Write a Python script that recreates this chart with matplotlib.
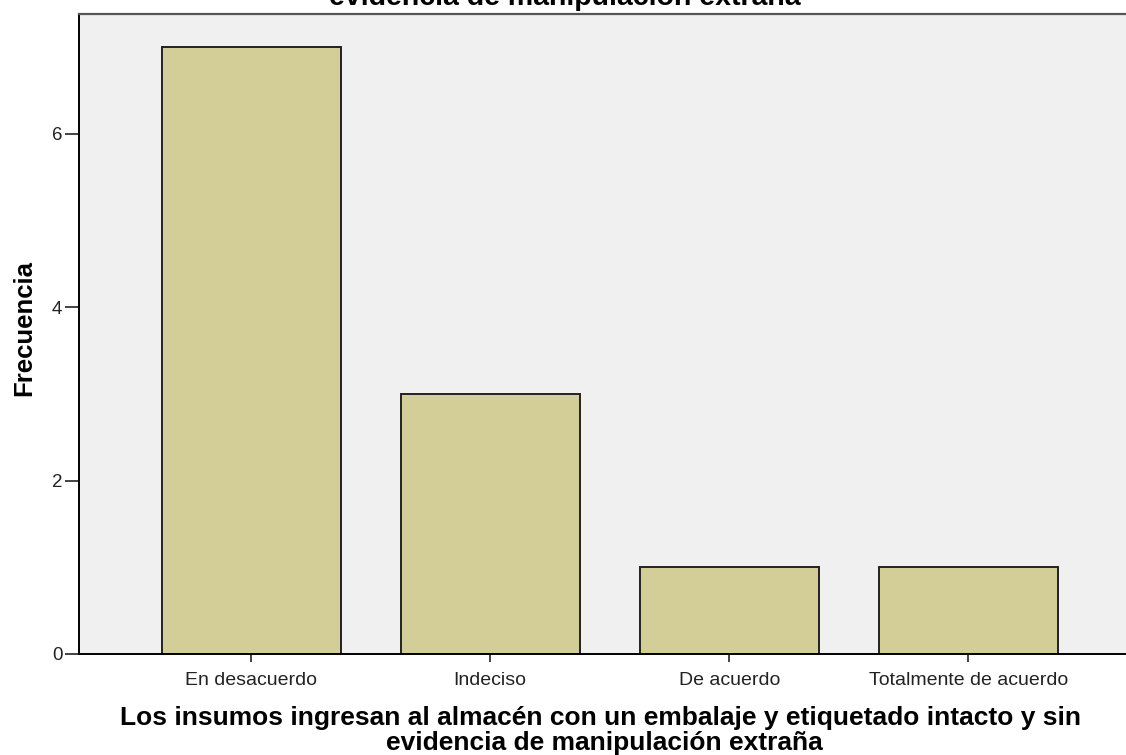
import matplotlib.pyplot as plt

categories = ["En desacuerdo", "Indeciso", "De acuerdo", "Totalmente de acuerdo"]
frequencies = [7, 3, 1, 1]
title_text = ("Los insumos ingresan al almacén con un embalaje y etiquetado intacto y sin\n"
              "evidencia de manipulación extraña")

plt.rcParams['font.family'] = ['Liberation Sans', 'DejaVu Sans']

fig = plt.figure(figsize=(11.26, 7.55), dpi=100)
ax = fig.add_axes([0.0702, 0.1338, 0.94, 0.8477])
ax.set_facecolor('#f0f0f0')

x = range(len(categories))
ax.bar(x, frequencies, width=0.75, color='#d3ce97', edgecolor='#222222', linewidth=1.4, zorder=2)

ax.set_xlim(-0.72, -0.72 + 4.38 * 0.94 / (1 - 0.0702))
ax.set_ylim(0, 7.38)
ax.set_yticks([0, 2, 4, 6])
ax.set_xticks(list(x))
ax.set_xticklabels(categories, fontsize=14)
ax.tick_params(axis='y', length=10, width=1.2, labelsize=13.5, pad=2, colors='#222222')
ax.tick_params(axis='x', length=6, width=1.2, pad=7, colors='#222222')

ax.spines['right'].set_visible(False)
ax.spines['left'].set_linewidth(1.4)
ax.spines['bottom'].set_linewidth(1.4)
ax.spines['top'].set_linewidth(1.6)
ax.spines['top'].set_color('#555555')

ax.set_ylabel("Frecuencia", fontsize=18.5, fontweight='bold', labelpad=11, y=0.51)

# x label as two centred lines
fig.text(600 / 1126, 1 - 725 / 755, title_text.split("\n")[0], fontsize=19,
         fontweight='bold', ha='center', va='baseline')
fig.text(604 / 1126, 1 - 750 / 755, title_text.split("\n")[1], fontsize=19,
         fontweight='bold', ha='center', va='baseline')

# chart title: only the bottom of its second line shows at the top edge
fig.text(565 / 1126, 1 - 5 / 755, title_text.split("\n")[1], fontsize=20.5,
         fontweight='bold', ha='center', va='baseline')

fig.savefig('out.png', dpi=100)
